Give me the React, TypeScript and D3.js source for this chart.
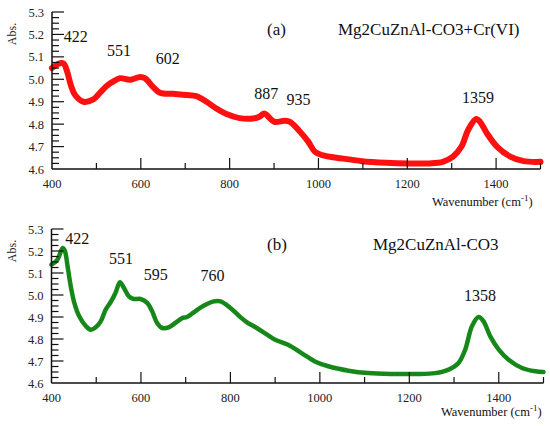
import React from "react";
import * as d3 from "d3";

const redWave = [400, 415, 426, 434, 443, 452, 471, 493, 508, 523, 542, 553, 576, 598, 609, 628, 643, 673, 703, 725, 748, 770, 793, 822, 852, 867, 878, 886, 901, 924, 936, 955, 977, 992, 1008, 1053, 1098, 1152, 1205, 1250, 1280, 1303, 1322, 1337, 1355, 1364, 1379, 1402, 1432, 1462, 1500];
const redAbs = [5.05, 5.07, 5.07, 5.035, 4.97, 4.93, 4.90, 4.91, 4.94, 4.97, 4.995, 5.005, 4.998, 5.01, 5.005, 4.965, 4.94, 4.935, 4.93, 4.925, 4.90, 4.87, 4.845, 4.827, 4.825, 4.833, 4.848, 4.836, 4.81, 4.815, 4.81, 4.774, 4.722, 4.677, 4.662, 4.647, 4.635, 4.628, 4.625, 4.625, 4.632, 4.655, 4.70, 4.774, 4.823, 4.81, 4.76, 4.70, 4.655, 4.635, 4.632];

const greenWave = [400, 413, 425, 430, 436, 443, 451, 462, 477, 488, 499, 510, 521, 532, 543, 553, 562, 573, 584, 599, 614, 625, 636, 648, 662, 677, 692, 703, 718, 741, 763, 778, 800, 822, 837, 859, 882, 900, 929, 959, 989, 1019, 1064, 1108, 1161, 1213, 1258, 1288, 1310, 1325, 1340, 1355, 1366, 1381, 1400, 1422, 1452, 1482, 1500];
const greenAbs = [5.138, 5.16, 5.214, 5.20, 5.13, 5.04, 4.964, 4.903, 4.858, 4.842, 4.853, 4.88, 4.933, 4.967, 5.009, 5.058, 5.032, 4.994, 4.982, 4.982, 4.964, 4.926, 4.873, 4.85, 4.853, 4.873, 4.895, 4.90, 4.921, 4.952, 4.971, 4.971, 4.941, 4.90, 4.876, 4.85, 4.82, 4.797, 4.774, 4.736, 4.698, 4.676, 4.656, 4.645, 4.641, 4.641, 4.645, 4.661, 4.691, 4.752, 4.858, 4.90, 4.88, 4.812, 4.752, 4.706, 4.668, 4.653, 4.65];

const xTickLabels = [400, 600, 800, 1000, 1200, 1400];
const yTickLabels = ["4.6", "4.7", "4.8", "4.9", "5.0", "5.1", "5.2", "5.3"];

const peaksA = [
  { text: "422", w: 422, v: 5.07, dx: 14, dy: -22 },
  { text: "551", w: 551, v: 5.005, dx: 0, dy: -22 },
  { text: "602", w: 602, v: 5.01, dx: 26, dy: -13 },
  { text: "887", w: 887, v: 4.848, dx: -2, dy: -14 },
  { text: "935", w: 935, v: 4.81, dx: 9, dy: -17 },
  { text: "1359", w: 1359, v: 4.823, dx: 0, dy: -16 },
];
const peaksB = [
  { text: "422", w: 422, v: 5.214, dx: 16, dy: -4 },
  { text: "551", w: 551, v: 5.058, dx: 2, dy: -18 },
  { text: "595", w: 595, v: 4.982, dx: 17, dy: -19 },
  { text: "760", w: 760, v: 4.971, dx: 0, dy: -20 },
  { text: "1358", w: 1358, v: 4.90, dx: 0, dy: -16 },
];

const FONT = "'Times New Roman', Tinos, 'Liberation Serif', 'DejaVu Serif', serif";

type PanelProps = {
  wave: number[];
  abs: number[];
  color: string;
  width: number;
  x0: number;
  x1: number;
  yTop: number;
  yBot: number;
  tag: string;
  tagX: number;
  title: string;
  titleX: number;
  titleY: number;
  peaks: { text: string; w: number; v: number; dx: number; dy: number }[];
  wnX: number;
  wnY: number;
  dotted?: boolean;
};

function Panel(p: PanelProps) {
  const x = d3.scaleLinear().domain([400, 1500]).range([p.x0, p.x1]);
  const y = d3.scaleLinear().domain([4.6, 5.3]).range([p.yBot, p.yTop]);
  const pts = p.wave.map((w, i) => [w, p.abs[i]] as [number, number]);
  const line = d3
    .line<[number, number]>()
    .x((d) => x(d[0]))
    .y((d) => y(d[1]))
    .curve(d3.curveCatmullRom.alpha(0.5));
  const xMinor = d3.range(500, 1501, 200);
  const xMajor = d3.range(600, 1401, 200);
  const yMinor = d3.range(0, 29).map((i) => 4.6 + i * 0.025).filter((v, i) => i % 4 !== 0);
  const yMajor = d3.range(1, 8).map((i) => 4.6 + i * 0.1);
  const ax = "#111";
  return (
    <g fontFamily={FONT}>
      <path d={line(pts) || ""} fill="none" stroke={p.color} strokeWidth={p.width} strokeLinejoin="round" strokeLinecap="round" />
      {p.dotted && (
        <path d={line(pts) || ""} fill="none" stroke="#0d6e0d" strokeWidth={1} strokeDasharray="1.5 3" opacity={0.5} />
      )}
      <line x1={p.x0} x2={p.x1} y1={p.yBot} y2={p.yBot} stroke={ax} strokeWidth={1.5} />
      <line x1={p.x0} x2={p.x0} y1={p.yBot} y2={p.yTop} stroke={ax} strokeWidth={1.5} />
      {xMinor.map((t) => (
        <line key={"xm" + t} x1={x(t)} x2={x(t)} y1={p.yBot} y2={p.yBot - 6} stroke={ax} strokeWidth={1.2} />
      ))}
      {xMajor.map((t) => (
        <line key={"xM" + t} x1={x(t)} x2={x(t)} y1={p.yBot} y2={p.yBot - 11} stroke={ax} strokeWidth={1.2} />
      ))}
      {yMinor.map((t, i) => (
        <line key={"ym" + i} x1={p.x0} x2={p.x0 + 7} y1={y(t)} y2={y(t)} stroke={ax} strokeWidth={1.2} />
      ))}
      {yMajor.map((t, i) => (
        <line key={"yM" + i} x1={p.x0} x2={p.x0 + 12} y1={y(t)} y2={y(t)} stroke={ax} strokeWidth={1.2} />
      ))}
      {xTickLabels.map((t) => (
        <text key={"xl" + t} x={x(t)} y={p.yBot + 19} textAnchor="middle" fontSize={12.5} fill="#222">
          {t}
        </text>
      ))}
      {yTickLabels.map((t) => (
        <text key={"yl" + t} x={p.x0 - 8} y={y(+t) + 4.5} textAnchor="end" fontSize={12.5} fill="#222">
          {t}
        </text>
      ))}
      <text transform={`translate(${p.x0 - 36},${p.yTop + 22}) rotate(-90)`} textAnchor="middle" fontSize={12} fill="#222">
        Abs.
      </text>
      {p.peaks.map((pk) => (
        <text key={pk.text} x={x(pk.w) + pk.dx} y={y(pk.v) + pk.dy} textAnchor="middle" fontSize={16} fill="#111">
          {pk.text}
        </text>
      ))}
      <text x={p.tagX} y={p.titleY} fontSize={17} fill="#111">
        {p.tag}
      </text>
      <text x={p.titleX} y={p.titleY} fontSize={17} fill="#111">
        {p.title}
      </text>
      <text x={p.wnX} y={p.wnY} fontSize={12.5} fill="#111">
        Wavenumber (cm
        <tspan dy={-5} fontSize={9}>-1</tspan>
        <tspan dy={5}>)</tspan>
      </text>
    </g>
  );
}

export default function App() {
  return (
    <svg width={550} height={426} style={{ display: "block", position: "absolute", left: 0, top: 0 }}>
      <rect width={550} height={426} fill="#fff" />
      <Panel
        wave={redWave}
        abs={redAbs}
        color="#ff1010"
        width={6}
        x0={52}
        x1={540.5}
        yTop={12}
        yBot={169}
        tag="(a)"
        tagX={267}
        title="Mg2CuZnAl-CO3+Cr(VI)"
        titleX={338}
        titleY={35}
        peaks={peaksA}
        wnX={432}
        wnY={206}
      />
      <Panel
        wave={greenWave}
        abs={greenAbs}
        color="#17891a"
        width={4.5}
        x0={51.5}
        x1={543.5}
        yTop={229}
        yBot={383}
        tag="(b)"
        tagX={267}
        title="Mg2CuZnAl-CO3"
        titleX={373}
        titleY={250}
        peaks={peaksB}
        wnX={441}
        wnY={416}
        dotted
      />
    </svg>
  );
}
